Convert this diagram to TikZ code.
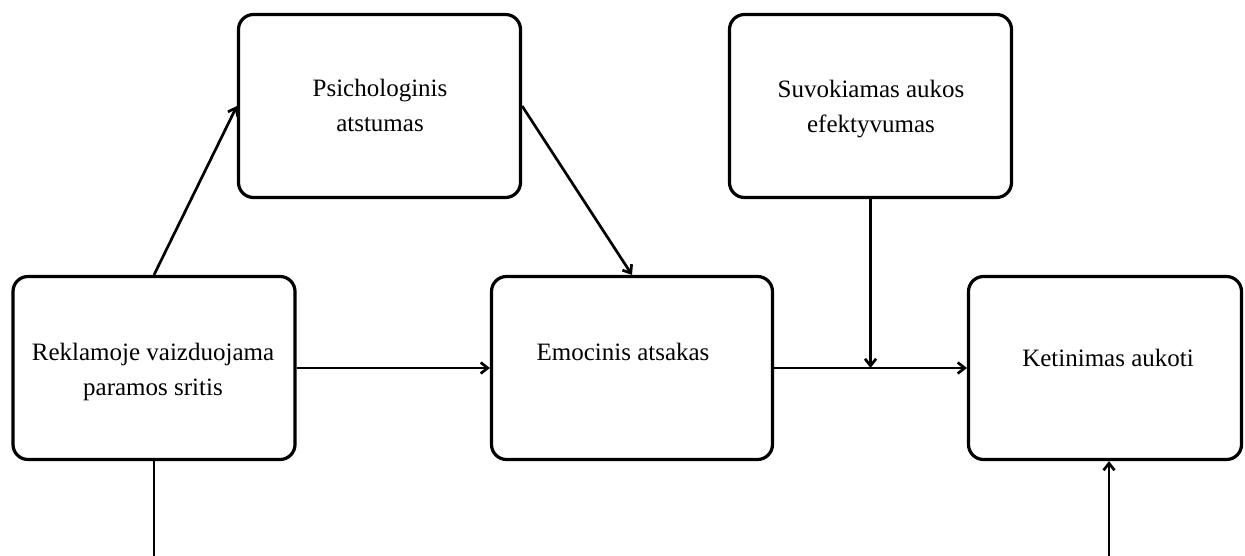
\documentclass[tikz,border=0pt]{standalone}
\usepackage{fontspec}
\setmainfont{Liberation Serif}
\usetikzlibrary{arrows.meta}
\begin{document}
\begin{tikzpicture}[x=1pt,y=-1pt,
  box/.style={draw=black, line width=3.2pt, rounded corners=15pt, minimum height=183pt, inner sep=0pt},
  lbl/.style={align=center, anchor=base, inner sep=0pt, font=\fontsize{25}{35}\selectfont},
  conn/.style={line width=2.7pt, -{Straight Barb[length=7pt,width=11pt,line width=2.7pt]}},
  plain/.style={line width=2.7pt}]
\useasboundingbox (0,0) rectangle (1245,556);
\fill[white] (0,0) rectangle (1245,556);
% boxes
\node[box, minimum width=282pt] (rek) at (154,368) {};
\node[box, minimum width=282pt] (psy) at (379.5,106) {};
\node[box, minimum width=282pt] (suv) at (870.5,106) {};
\node[box, minimum width=281pt] (emo) at (632,368) {};
\node[box, minimum width=273pt] (ket) at (1105,368) {};
% labels
\node[lbl] (rekt) at (153,395) {Reklamoje vaizduojama\\paramos sritis};
\node[lbl] (psyt) at (380,132) {Psichologinis\\atstumas};
\node[lbl] (suvt) at (871,133) {Suvokiamas aukos\\efektyvumas};
\node[lbl] (emot) at (623,360) {Emocinis atsakas};
\node[lbl] (kett) at (1108,366) {Ketinimas aukoti};
% free ends
\coordinate (rekb) at (154,560);
\coordinate (ketb) at (1109,560);
\coordinate (join) at (suv.south |- emo.east);
% connectors
\draw[conn] (rek.north) -- (psy.west);
\draw[conn] (psy.east) -- (emo.north);
\draw[conn] (rek.east) -- (emo.west);
\draw[conn] (emo.east) -- (ket.west);
\draw[conn] (suv.south) -- (join);
\draw[plain] (rek.south) -- (rekb);
\draw[conn] (ketb) -- (ketb |- ket.south);
\end{tikzpicture}
\end{document}
